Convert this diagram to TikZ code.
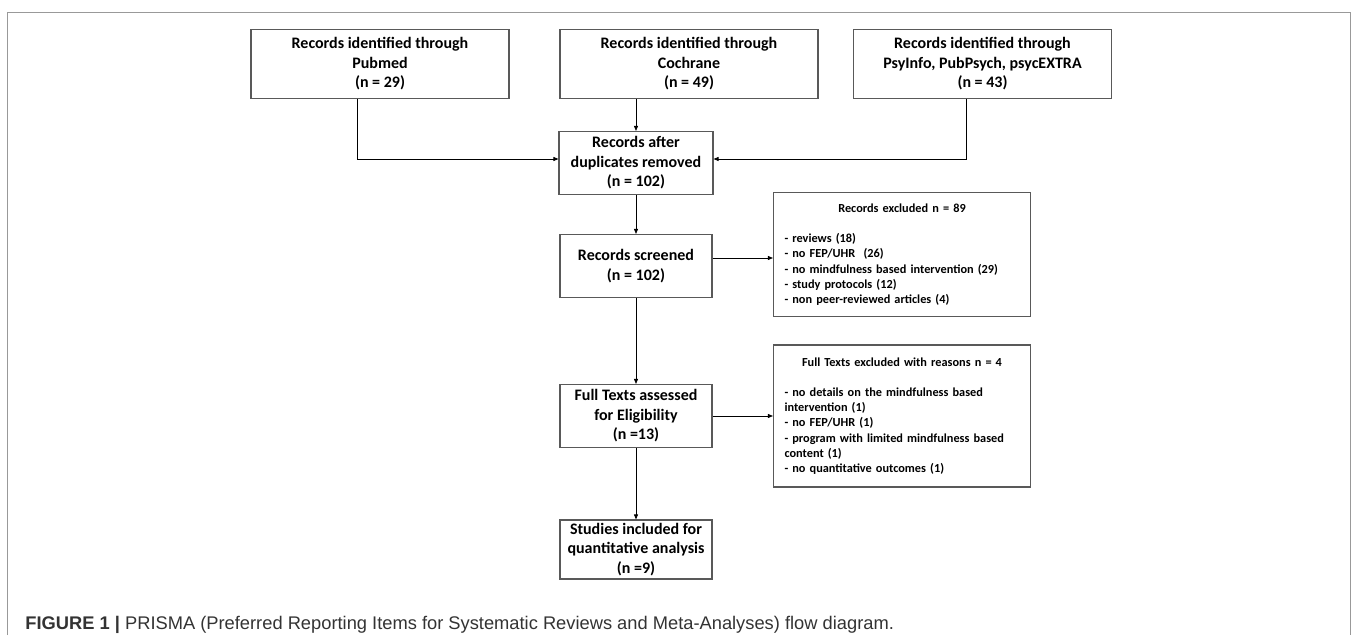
\documentclass[tikz,border=0pt]{standalone}
\usepackage{fontspec}
\setmainfont{Carlito}
\newfontfamily\capfont{Liberation Sans}
\usetikzlibrary{arrows.meta}
\usetikzlibrary{positioning,shapes,arrows}
\usetikzlibrary{calc}

\tikzset{
  srcbox/.style={draw=black!65, line width=1.1pt, minimum width=258pt, minimum height=69pt,
    align=center, inner sep=2pt, font=\fontsize{16}{19.5}\selectfont\bfseries},
  flowbox/.style={srcbox, minimum width=152pt, minimum height=63pt},
  exclbox/.style={draw=black!65, line width=1.1pt, text width=235pt, align=left,
    inner sep=11pt, font=\fontsize{12.3}{15.2}\selectfont\bfseries}
}

\begin{document}
\begin{tikzpicture}[x=1pt, y=-1pt, >={Triangle[length=5pt,width=4pt]}, thick]
            \useasboundingbox (0,0) rectangle (1355,635);
            \draw[black!40, thin] (7,635) -- (7,12) -- (1350,12) -- (1350,635);
            \node[flowbox, minimum width=154pt] (dup) at (636,163) {Records after\\duplicates removed\\(n = 102)};
            \node[srcbox, above of=dup, node distance=99pt, xshift=53pt] (coch) {Records identified through\\Cochrane\\(n = 49)};
            \node[srcbox, left of=coch, node distance=309pt] (pub) {Records identified through\\Pubmed\\(n = 29)};
            \node[srcbox, right of=coch, node distance=293.5pt] (psy) {Records identified through\\PsyInfo, PubPsych, psycEXTRA\\(n = 43)};
            \node[flowbox, below of=dup, node distance=103pt] (scr) {Records screened\\(n = 102)};
            \node[flowbox, below of=scr, node distance=150pt] (full) {Full Texts assessed\\for Eligibility\\(n =13)};
            \node[flowbox, below of=full, node distance=133.5pt, minimum height=59pt] (incl) {Studies included for\\quantitative analysis\\(n =9)};
            \node[exclbox, right of=scr, node distance=266pt, yshift=11.5pt, minimum height=117pt] (exc1)
              {{\centering Records excluded n = 89\par}\vspace{15.2pt}
               - reviews (18)\\
               - no FEP/UHR~~(26)\\
               - no mindfulness based intervention (29)\\
               - study protocols (12)\\
               - non peer-reviewed articles (4)};
            \node[exclbox, right of=full, node distance=266pt, minimum height=142pt] (exc2)
              {{\centering Full Texts excluded with reasons n = 4\par}\vspace{15.2pt}
               - no details on the mindfulness based\\
               intervention (1)\\
               - no FEP/UHR (1)\\
               - program with limited mindfulness based\\
               content (1)\\
               - no quantitative outcomes (1)\par\vspace{8pt}};
            \node[anchor=base west, inner sep=0pt, text=black!80, font=\capfont\fontsize{18.3}{22}\selectfont] (cap) at (25,629)
              {\textbf{FIGURE 1 |} PRISMA (Preferred Reporting Items for Systematic Reviews and Meta-Analyses) flow diagram.};
            \coordinate (s1) at ($(scr.east)+(0,-8)$);
    	    \draw[->] ($(pub.south)+(-23,0)$) |- ($(dup.west)+(0,-4)$);
    	    \draw[->] ($(psy.south)+(-16.5,0)$) |- ($(dup.east)+(0,-4)$);
    	    \path[->] (coch.south -| dup.north) edge (dup);
    	    \path[->] (dup) edge (scr);
    	    \path[->] (scr) edge (full);
    	    \path[->] (full) edge (incl);
    	    \path[->] (s1) edge (s1 -| exc1.west);
    	    \path[->] (full) edge (exc2);
    	\end{tikzpicture}
\end{document}
